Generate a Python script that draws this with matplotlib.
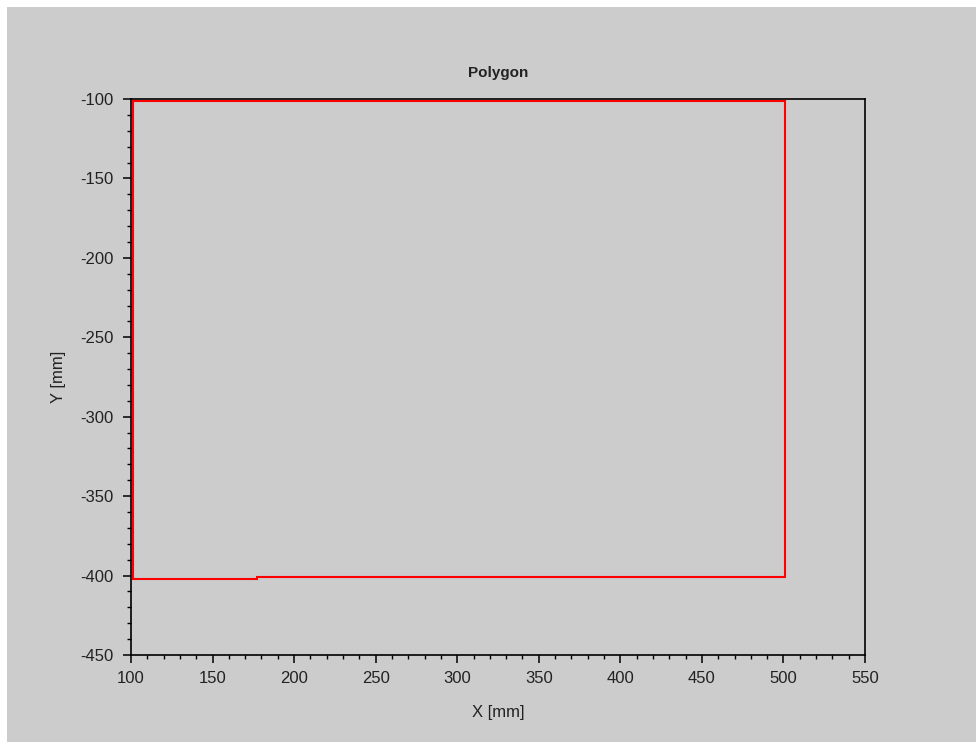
import matplotlib
matplotlib.use("Agg")
import matplotlib.pyplot as plt
from matplotlib.patches import Rectangle
from matplotlib.ticker import MultipleLocator

plt.rcParams['font.family'] = ['Liberation Sans', 'DejaVu Sans']
plt.rcParams['axes.unicode_minus'] = False

# Polygon vertices (mm)
poly_x = [101, 501, 501, 177, 177, 101, 101]
poly_y = [-101.5, -101.5, -401, -401, -402, -402, -101.5]

x_ticks = [100, 150, 200, 250, 300, 350, 400, 450, 500, 550]
y_ticks = [-100, -150, -200, -250, -300, -350, -400, -450]

W, H = 976, 742
fig = plt.figure(figsize=(W / 100, H / 100), dpi=100, facecolor='white')
bg = '#cccccc'
fig.patches.append(Rectangle((7 / W, 0), 1 - 7 / W, (H - 7) / H,
                             transform=fig.transFigure, facecolor=bg,
                             edgecolor='none', zorder=-10))

ax = fig.add_axes([131 / W, (H - 655) / H, 734 / W, 556 / H])
ax.set_facecolor(bg)
ax.plot(poly_x, poly_y, color='#ff0000', linewidth=1.5, solid_joinstyle='miter')

ax.set_xlim(100, 550)
ax.set_ylim(-450, -100)
ax.set_xticks(x_ticks)
ax.set_yticks(y_ticks)
ax.xaxis.set_minor_locator(MultipleLocator(10))
ax.yaxis.set_minor_locator(MultipleLocator(10))
ax.tick_params(which='major', direction='out', length=5.8, width=1.1,
               labelsize=12, colors='black', labelcolor='#222222')
ax.tick_params(axis='x', which='major', pad=5.5)
ax.tick_params(axis='y', which='major', pad=7)
ax.tick_params(which='minor', direction='out', length=2.9, width=1.0)
ax.tick_params(axis='x', which='both', top=False)
ax.tick_params(axis='y', which='both', right=False)
for sp in ax.spines.values():
    sp.set_linewidth(1.2)
    sp.set_color('black')

ax.set_title('Polygon', fontsize=11, fontweight='bold', color='#222222',
             va='center', y=(99 - 73) / 556 + 1, pad=0)
ax.set_xlabel('X [mm]', fontsize=12, color='#222222', va='center')
ax.xaxis.set_label_coords(0.5, -(712.7 - 655) / 556)
ax.set_ylabel('Y [mm]', fontsize=12, color='#222222', va='center')
ax.yaxis.set_label_coords(-(131 - 58) / 734, 0.5)

fig.savefig('out.png', dpi=100, facecolor='white')
